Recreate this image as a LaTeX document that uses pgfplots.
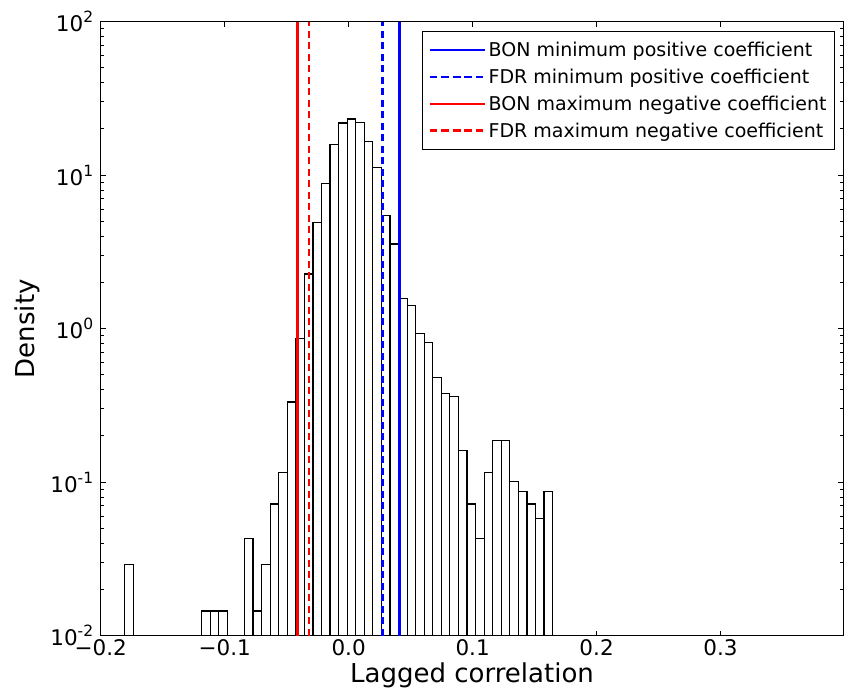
\documentclass[border=0pt]{standalone}
\usepackage{fontspec}
\setmainfont{DejaVu Sans}
\usepackage{pgfplots}
\pgfplotsset{compat=1.18}
\newcommand{\ytl}[1]{10\raisebox{0.42em}{\fontsize{15.5}{15.5}\selectfont #1}}
\begin{document}
\begin{tikzpicture}
\begin{axis}[
  at={(0pt,0pt)}, anchor=south west,
  scale only axis, width=742.6pt, height=614pt,
  xmin=-0.2, xmax=0.399, ymin=0.01, ymax=100,
  ymode=log, log origin y=infty,
  xtick={-0.2,-0.1,0,0.1,0.2,0.3},
  xticklabels={−0.2,−0.1,0.0,0.1,0.2,0.3},
  ytick={0.01,0.1,1,10,100},
  yticklabels={\ytl{-2},\ytl{-1},\ytl{0},\ytl{1},\ytl{2}},
  tick label style={font=\fontsize{21.5}{25}\selectfont},
  yticklabel style={xshift=-4pt},
  major tick length=5pt, minor tick length=3pt,
  every tick/.style={black, line width=1pt},
  axis line style={line width=1.2pt},
  xlabel={Lagged correlation}, ylabel={Density},
  label style={font=\fontsize{26}{30}\selectfont},
  xlabel style={at={(axis description cs:0.5,-0.0770)}, anchor=base},
  ylabel style={at={(axis description cs:-0.0885,0.5)}, anchor=base},
  legend cell align=left,
  legend style={at={(rel axis cs:0.9888,0.9849)}, anchor=north east,
    draw=black, line width=1pt, fill=white,
    font=\fontsize{19}{22}\selectfont,
    inner xsep=6pt, inner ysep=8.5pt, row sep=7pt},
  legend image code/.code={\path (-12.7pt,0pt) -- (43pt,0pt); \draw[#1] (0pt,0pt) -- (30pt,0pt);},
]
\addplot[ybar, bar width=0.006903, bar shift=0pt, fill=white, draw=black, line width=1.2pt, forget plot]
coordinates {
(-0.17720,0.0290)
(-0.11507,0.0145) (-0.10817,0.0145) (-0.10126,0.0145)
(-0.08056,0.0431) (-0.07365,0.0145) (-0.06675,0.0290) (-0.05985,0.0722)
(-0.05294,0.1153) (-0.04604,0.333) (-0.03914,0.866) (-0.03223,2.27)
(-0.02533,4.91) (-0.01843,8.86) (-0.01152,15.9) (-0.00462,21.9)
(0.00228,23.2) (0.00919,22.0) (0.01609,16.5) (0.02299,11.2)
(0.02990,5.48) (0.03680,3.56) (0.04370,1.58) (0.05061,1.41)
(0.05751,0.928) (0.06441,0.810) (0.07132,0.480) (0.07822,0.377)
(0.08512,0.361) (0.09203,0.160) (0.09893,0.0722) (0.10583,0.0431)
(0.11274,0.1153) (0.11964,0.1875) (0.12654,0.1875) (0.13345,0.1008)
(0.14035,0.0867) (0.14725,0.0722) (0.15416,0.0578) (0.16106,0.0867)
};
\addplot[blue, line width=2.5pt] coordinates {(0.0410,0.01) (0.0410,100)};
\addlegendentry{BON minimum positive coefficient}
\addplot[blue, line width=2.7pt, dash pattern=on 7pt off 4.5pt] coordinates {(0.0274,0.01) (0.0274,100)};
\addlegendentry{FDR minimum positive coefficient}
\addplot[red, line width=2.5pt] coordinates {(-0.0411,0.01) (-0.0411,100)};
\addlegendentry{BON maximum negative coefficient}
\addplot[red, line width=2.7pt, dash pattern=on 7pt off 4.5pt] coordinates {(-0.0320,0.01) (-0.0320,100)};
\addlegendentry{FDR maximum negative coefficient}
\end{axis}
\pgfresetboundingbox
\path[use as bounding box] (-100.7pt,-56.3pt) rectangle (743.3pt,635.7pt);
\end{tikzpicture}
\end{document}
